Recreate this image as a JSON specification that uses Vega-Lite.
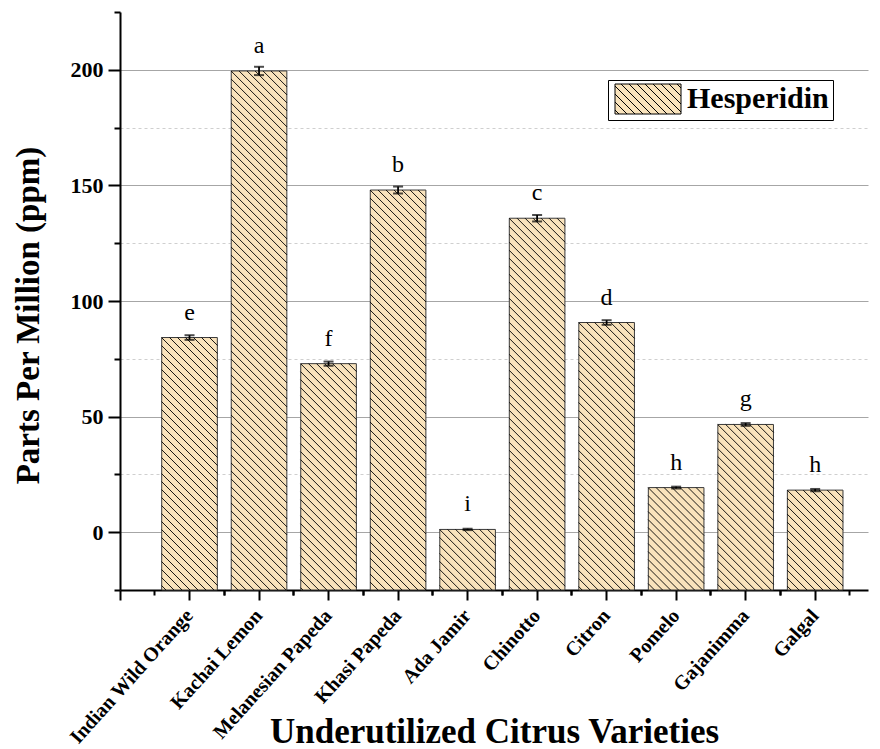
{
  "$schema": "https://vega.github.io/schema/vega-lite/v6.json",
  "width": 748,
  "height": 578,
  "autosize": {"type": "none"},
  "padding": {"left": 120, "top": 12, "right": 12, "bottom": 159},
  "background": "#ffffff",
  "config": {
    "view": {"stroke": null},
    "font": "Liberation Serif"
  },
  "data": {
    "values": [
      {"variety": "Indian Wild Orange", "ppm": 84.2, "sd": 1.0, "group": "e"},
      {"variety": "Kachai Lemon", "ppm": 199.5, "sd": 1.8, "group": "a"},
      {"variety": "Melanesian Papeda", "ppm": 72.9, "sd": 0.9, "group": "f"},
      {"variety": "Khasi Papeda", "ppm": 148.0, "sd": 1.5, "group": "b"},
      {"variety": "Ada Jamir", "ppm": 1.2, "sd": 0.3, "group": "i"},
      {"variety": "Chinotto", "ppm": 135.8, "sd": 1.4, "group": "c"},
      {"variety": "Citron", "ppm": 90.7, "sd": 1.0, "group": "d"},
      {"variety": "Pomelo", "ppm": 19.3, "sd": 0.4, "group": "h"},
      {"variety": "Gajanimma", "ppm": 46.6, "sd": 0.6, "group": "g"},
      {"variety": "Galgal", "ppm": 18.2, "sd": 0.5, "group": "h"}
    ]
  },
  "resolve": {"axis": {"x": "independent", "y": "independent"}},
  "layer": [
    {
      "mark": {"type": "bar", "width": {"band": 0.8}, "stroke": "#3a3a3a", "strokeWidth": 1},
      "encoding": {
        "x": {
          "field": "variety", "type": "nominal", "sort": null,
          "scale": {"type": "band", "paddingInner": 0, "paddingOuter": 0.38, "align": 0.658},
          "axis": {
            "orient": "bottom",
            "title": "Underutilized Citrus Varieties",
            "titleFont": "Liberation Serif", "titleFontSize": 35, "titleFontWeight": "bold", "titleColor": "#000",
            "titleY": 152, "titleBaseline": "alphabetic",
            "labelAngle": -48, "labelAlign": "right", "labelBaseline": "middle",
            "labelFont": "Liberation Serif", "labelFontSize": 20, "labelFontWeight": "bold", "labelColor": "#000",
            "labelPadding": 12, "labelOverlap": false,
            "tickSize": 10, "tickWidth": 2, "tickColor": "#000",
            "domainColor": "#000", "domainWidth": 2, "grid": false
          }
        },
        "y": {
          "field": "ppm", "type": "quantitative",
          "scale": {"domain": [-25, 225], "nice": false, "zero": false},
          "axis": {
            "orient": "left",
            "values": [0, 50, 100, 150, 200],
            "title": "Parts Per Million (ppm)",
            "titleFont": "Liberation Serif", "titleFontSize": 33, "titleFontWeight": "bold", "titleColor": "#000",
            "titlePadding": 25, "titleY": 303,
            "labelFont": "Liberation Serif", "labelFontSize": 22, "labelFontWeight": "bold", "labelColor": "#000",
            "labelPadding": 5, "labelOverlap": false, "labelFlush": false,
            "tickSize": 12, "tickWidth": 2, "tickColor": "#000",
            "domainColor": "#000", "domainWidth": 2,
            "grid": true, "gridWidth": 1, "gridColor": "#a6a6a6"
          }
        },
        "y2": {"datum": -25},
        "fill": {
          "datum": "Hesperidin", "type": "nominal",
          "scale": {"range": ["#F9E3BC"]},
          "legend": {
            "orient": "none", "legendX": 488, "legendY": 68,
            "title": null,
            "strokeColor": "#000", "fillColor": "#fff", "padding": 4,
            "symbolType": "M-33,-15H33V15H-33Z M-33,11L-29,15 M-33,3L-21,15 M-33,-5L-13,15 M-33,-13L-5,15 M-27,-15L3,15 M-19,-15L11,15 M-11,-15L19,15 M-3,-15L27,15 M5,-15L33,13 M13,-15L33,5 M21,-15L33,-3 M29,-15L33,-11",
            "symbolSize": 4, "symbolStrokeColor": "#000", "symbolStrokeWidth": 1, "symbolOpacity": 1,
            "symbolOffset": 21, "labelOffset": 24,
            "labelFont": "Liberation Serif", "labelFontSize": 30, "labelFontWeight": "bold", "labelColor": "#000",
            "labelBaseline": "middle"
          }
        }
      }
    },
    {
      "mark": {
        "type": "point", "clip": true, "filled": false, "opacity": 1,
        "stroke": "#000", "strokeWidth": 0.9, "size": 4,
        "shape": "M20,0l8,8M12,0l16,16M4,0l24,24M-4,0l32,32M-12,0l40,40M-20,0l48,48M-28,0l56,56m-56,-48l56,56m-56,-48l56,56m-56,-48l56,56m-56,-48l56,56m-56,-48l56,56m-56,-48l56,56m-56,-48l56,56m-56,-48l56,56m-56,-48l56,56m-56,-48l56,56m-56,-48l56,56m-56,-48l56,56m-56,-48l56,56m-56,-48l56,56m-56,-48l56,56m-56,-48l56,56m-56,-48l56,56m-56,-48l56,56m-56,-48l56,56m-56,-48l56,56m-56,-48l56,56m-56,-48l56,56m-56,-48l56,56m-56,-48l56,56m-56,-48l56,56m-56,-48l56,56m-56,-48l56,56m-56,-48l56,56m-56,-48l56,56m-56,-48l56,56m-56,-48l56,56m-56,-48l56,56m-56,-48l56,56m-56,-48l56,56m-56,-48l56,56m-56,-48l56,56m-56,-48l56,56m-56,-48l56,56m-56,-48l56,56m-56,-48l56,56m-56,-48l56,56m-56,-48l56,56m-56,-48l56,56m-56,-48l56,56m-56,-48l56,56m-56,-48l56,56m-56,-48l56,56m-56,-48l56,56m-56,-48l56,56m-56,-48l56,56m-56,-48l56,56m-56,-48l56,56m-56,-48l56,56m-56,-48l56,56m-56,-48l56,56m-56,-48l56,56m-56,-48l56,56m-56,-48l56,56m-56,-48l56,56m-56,-48l56,56m-56,-48l56,56m-56,-48l56,56m-56,-48l56,56m-56,-48l56,56m-56,-48l56,56m-56,-48l56,56"
      },
      "encoding": {
        "x": {
          "field": "variety", "type": "nominal", "sort": null,
          "axis": {
            "orient": "bottom", "bandPosition": 0, "labels": false, "domain": false, "grid": false, "title": null,
            "tickSize": 5, "tickWidth": 2, "tickColor": "#000"
          }
        },
        "y": {
          "field": "ppm", "type": "quantitative",
          "axis": {
            "orient": "left", "values": [25, 75, 125, 175],
            "labels": false, "domain": false, "title": null,
            "tickSize": 6, "tickWidth": 2, "tickColor": "#000",
            "grid": true, "gridWidth": 1, "gridColor": "#cfcfcf", "gridDash": [3, 3]
          }
        }
      }
    },
    {
      "mark": {
        "type": "errorbar", "color": "#000",
        "rule": {"strokeWidth": 1.8},
        "ticks": {"size": 10, "thickness": 2}
      },
      "encoding": {
        "x": {
          "field": "variety", "type": "nominal", "sort": null,
          "axis": {
            "orient": "bottom", "bandPosition": 1, "labels": false, "domain": false, "grid": false, "title": null,
            "tickSize": 5, "tickWidth": 2, "tickColor": "#000"
          }
        },
        "y": {
          "field": "ppm", "type": "quantitative",
          "axis": {
            "orient": "left", "values": [-25, 225],
            "labels": false, "domain": false, "title": null, "grid": false,
            "tickSize": 6, "tickWidth": 2, "tickColor": "#000"
          }
        },
        "yError": {"field": "sd"}
      }
    },
    {
      "mark": {
        "type": "text", "font": "Liberation Serif", "fontSize": 24, "color": "#000",
        "baseline": "alphabetic", "align": "center", "dy": -18
      },
      "encoding": {
        "x": {
          "field": "variety", "type": "nominal", "sort": null,
          "axis": {
            "orient": "bottom", "bandPosition": -0.5, "values": ["Indian Wild Orange"],
            "labels": false, "domain": false, "grid": false, "title": null,
            "tickSize": 10, "tickWidth": 2, "tickColor": "#000"
          }
        },
        "y": {"field": "ppm", "type": "quantitative", "axis": null},
        "text": {"field": "group"}
      }
    }
  ]
}
